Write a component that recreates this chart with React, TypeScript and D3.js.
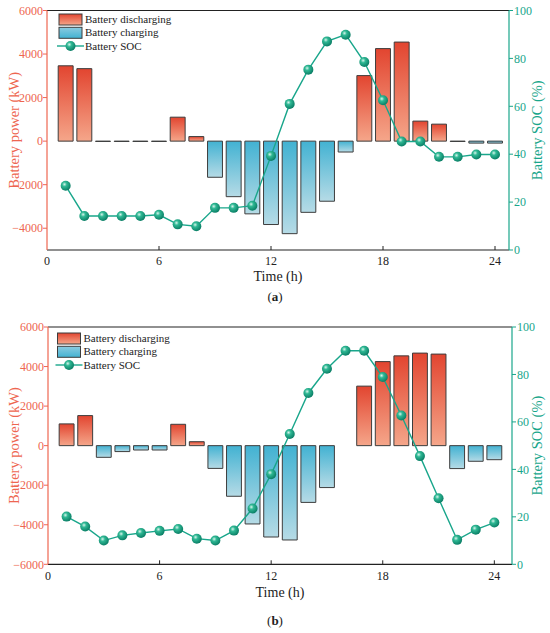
// @ts-nocheck
import * as d3 from "d3";
import React from "react";

const hours = d3.range(1, 25);

// panel (a)
const powerA = [3460, 3330, -15, -15, -15, -15, 1100, 210, -1660, -2550, -3340, -3830, -4250, -3270, -2760, -500,
  3010, 4250, 4550, 920, 780, -15, -90, -90];
const socA = [26.8, 14.2, 14.2, 14.2, 14.2, 14.7, 10.7, 9.9, 17.6, 17.6, 18.5, 39.3, 61, 75.3, 87.1, 89.9,
  78.5, 62.5, 45.3, 45.3, 38.9, 38.9, 39.9, 39.9];

// panel (b)
const powerB = [1100, 1520, -590, -300, -220, -220, 1080, 200, -1150, -2560, -3960, -4620, -4770, -2870, -2120, 0,
  3010, 4250, 4540, 4680, 4630, -1160, -790, -710];
const socB = [20.1, 15.9, 10, 12.2, 13.2, 14.1, 14.9, 10.8, 10, 14.2, 23.5, 38, 54.9, 72.2, 82.4, 90,
  90, 78.9, 62.7, 45.6, 27.8, 10.3, 14.6, 17.6];

const xTicks = [0, 6, 12, 18, 24];
const socTicks = [0, 20, 40, 60, 80, 100];
const legendLabels = ["Battery discharging", "Battery charging", "Battery SOC"];

const RED = "#ee6650";
const TEAL = "#19a68b";
const FONT = "Liberation Serif, Times New Roman, serif";

const panels = [
  {
    id: "a", power: powerA, soc: socA,
    left: 47, right: 509, top: 10.5, bottom: 250, xMax: 24.75,
    yDomain: [-5000, 6000], yTicks: [-4000, -2000, 0, 2000, 4000, 6000],
    legendX: 59, legendY: 19.5, tickY: 265, titleY: 281, capY: 301,
  },
  {
    id: "b", power: powerB, soc: socB,
    left: 48, right: 512, top: 327, bottom: 564.3, xMax: 24.95,
    yDomain: [-6000, 6000], yTicks: [-6000, -4000, -2000, 0, 2000, 4000, 6000],
    legendX: 57.5, legendY: 338.5, tickY: 580, titleY: 597, capY: 625,
  },
];

const Panel = ({ p }) => {
  const x = d3.scaleLinear().domain([0, p.xMax]).range([p.left, p.right]);
  const y = d3.scaleLinear().domain(p.yDomain).range([p.bottom, p.top]);
  const y2 = d3.scaleLinear().domain([0, 100]).range([p.bottom, p.top]);
  const bw = x(0.8) - x(0);
  const line = d3.line().x((d, i) => x(hours[i])).y((d) => y2(d));
  const midY = (p.top + p.bottom) / 2;

  return (
    <g>
      {/* bars */}
      {p.power.map((v, i) => {
        if (v === 0) return null;
        const x0 = x(hours[i]) - bw / 2;
        const y0 = y(0);
        const y1 = y(v);
        return (
          <path
            key={i}
            d={`M${x0},${y0}H${x0 + bw}V${y1}H${x0}Z`}
            fill={v > 0 ? "url(#gradDis)" : "url(#gradChg)"}
            stroke="#3d3d3d"
            strokeWidth={1}
          />
        );
      })}

      {/* frame: top and bottom */}
      <line x1={p.left} x2={p.right} y1={p.top} y2={p.top} stroke="#222" strokeWidth={1.2} />
      <line x1={p.left} x2={p.right} y1={p.bottom} y2={p.bottom} stroke="#222" strokeWidth={1.2} />
      {xTicks.map((t) => (
        <g key={t}>
          {t > 0 && <line x1={x(t)} x2={x(t)} y1={p.bottom} y2={p.bottom - 4} stroke="#222" strokeWidth={1} />}
          <text x={x(t)} y={p.tickY} textAnchor="middle" fontSize={12} fill="#222">{t}</text>
        </g>
      ))}
      <text x={(p.left + p.right) / 2} y={p.titleY} textAnchor="middle" fontSize={14} fill="#222">Time (h)</text>
      <text x={275} y={p.capY} textAnchor="middle" fontSize={13} fill="#222">
        (<tspan fontWeight="bold">{p.id}</tspan>)
      </text>

      {/* left axis */}
      <line x1={p.left} x2={p.left} y1={p.top} y2={p.bottom} stroke={RED} strokeWidth={1.2} />
      {p.yTicks.map((t) => (
        <g key={t}>
          <line x1={p.left - 4} x2={p.left} y1={y(t)} y2={y(t)} stroke={RED} strokeWidth={1} />
          <text x={p.left - 4} y={y(t)} dy="0.35em" textAnchor="end" fontSize={12} fill={RED}>
            {t < 0 ? "\u2212" + Math.abs(t) : t}
          </text>
        </g>
      ))}
      <text transform={`translate(14,${midY}) rotate(-90)`} textAnchor="middle" dy="0.35em" fontSize={14.5} fill={RED}>
        Battery power (kW)
      </text>

      {/* right axis */}
      <line x1={p.right} x2={p.right} y1={p.top} y2={p.bottom} stroke={TEAL} strokeWidth={1.2} />
      {socTicks.map((t) => (
        <g key={t}>
          <line x1={p.right} x2={p.right + 4} y1={y2(t)} y2={y2(t)} stroke={TEAL} strokeWidth={1} />
          <text x={p.right + 5} y={y2(t)} dy="0.35em" textAnchor="start" fontSize={12} fill={TEAL}>{t}</text>
        </g>
      ))}
      <text transform={`translate(537,${midY}) rotate(-90)`} textAnchor="middle" dy="0.35em" fontSize={14.5} fill={TEAL}>
        Battery SOC (%)
      </text>

      {/* SOC line */}
      <path d={line(p.soc)} fill="none" stroke={TEAL} strokeWidth={1.4} />
      {p.soc.map((v, i) => (
        <circle key={i} cx={x(hours[i])} cy={y2(v)} r={5} fill="url(#gradBall)" />
      ))}

      {/* legend */}
      <g fontSize={11} fill="#222">
        <rect x={p.legendX} y={p.legendY - 5.5} width={23} height={11} fill="url(#gradDis)" stroke="#3d3d3d" />
        <text x={p.legendX + 26} y={p.legendY} dy="0.33em">{legendLabels[0]}</text>
        <rect x={p.legendX} y={p.legendY + 13.3 - 5.5} width={23} height={11} fill="url(#gradChgL)" stroke="#3d3d3d" />
        <text x={p.legendX + 26} y={p.legendY + 13.3} dy="0.33em">{legendLabels[1]}</text>
        <line x1={p.legendX - 2} x2={p.legendX + 25} y1={p.legendY + 26.5} y2={p.legendY + 26.5} stroke={TEAL} strokeWidth={1.4} />
        <circle cx={p.legendX + 11.5} cy={p.legendY + 26.5} r={5} fill="url(#gradBall)" />
        <text x={p.legendX + 26} y={p.legendY + 26.5} dy="0.33em">{legendLabels[2]}</text>
      </g>
    </g>
  );
};

export default function App() {
  return (
    <svg
      width={550}
      height={633}
      style={{ position: "absolute", left: 0, top: 0, background: "#fff", fontFamily: FONT }}
    >
      <defs>
        <linearGradient id="gradDis" x1="0" y1="0" x2="0" y2="1">
          <stop offset="0" stopColor="#e24530" />
          <stop offset="1" stopColor="#f5a68a" />
        </linearGradient>
        <linearGradient id="gradChg" x1="0" y1="0" x2="0" y2="1">
          <stop offset="0" stopColor="#42b2d2" />
          <stop offset="1" stopColor="#b6dbe6" />
        </linearGradient>
        <linearGradient id="gradChgL" x1="0" y1="0" x2="0" y2="1">
          <stop offset="0" stopColor="#8ccbe0" />
          <stop offset="1" stopColor="#42b2d2" />
        </linearGradient>
        <radialGradient id="gradBall" cx="0.38" cy="0.35" r="0.65">
          <stop offset="0" stopColor="#d8f5ec" />
          <stop offset="0.35" stopColor="#2fb894" />
          <stop offset="1" stopColor="#0b7f66" />
        </radialGradient>
      </defs>
      {panels.map((p) => (
        <Panel key={p.id} p={p} />
      ))}
    </svg>
  );
}
